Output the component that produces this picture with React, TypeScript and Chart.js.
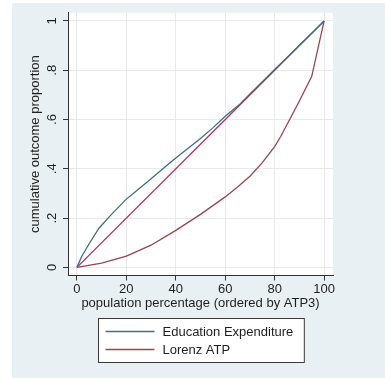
import React, { useEffect, useRef } from "react";
import { Chart, registerables } from "chart.js";

Chart.register(...registerables);

// ---- data ----
const eduX = [0, 2, 5, 9, 14, 20, 25, 30, 35, 40, 45, 50, 55, 60, 66, 70, 75, 80, 85, 90, 95, 100];
const eduY = [0, 0.045, 0.097, 0.16, 0.215, 0.277, 0.318, 0.36, 0.402, 0.444, 0.483, 0.523, 0.566, 0.613, 0.663, 0.704, 0.753, 0.803, 0.852, 0.901, 0.95, 1];

const lorenzX = [0, 10, 20, 30, 40, 50, 60, 65, 70, 75, 80, 82.5, 85, 90, 95, 100];
const lorenzY = [0, 0.017, 0.046, 0.09, 0.15, 0.215, 0.286, 0.326, 0.37, 0.425, 0.49, 0.532, 0.58, 0.675, 0.775, 1];

const equalityX = [0, 100];
const equalityY = [0, 1];

const xTickValues = [0, 20, 40, 60, 80, 100];
const xTickLabels = ["0", "20", "40", "60", "80", "100"];
const yTickValues = [0, 0.2, 0.4, 0.6, 0.8, 1];
const yTickLabels = ["0", ".2", ".4", ".6", ".8", "1"];

const seriesLabels = ["Education Expenditure", "Lorenz ATP"];
const xTitle = "population percentage (ordered by ATP3)";
const yTitle = "cumulative outcome proportion";

const COL_EDU = "#3f6f80";
const COL_LOR = "#9a4452";
const COL_EQ = "#b02a55";
const FONT = "'Liberation Sans', Arial, sans-serif";
const TEXT = "#1e1e1e";

const toPts = (xs: number[], ys: number[]) => xs.map((x, i) => ({ x, y: ys[i] }));

const bgPlugin = {
  id: "bgPanel",
  beforeDraw(chart: any) {
    const { ctx, chartArea } = chart;
    ctx.save();
    ctx.fillStyle = "#ffffff";
    ctx.fillRect(0, 0, chart.width, chart.height);
    ctx.fillStyle = "#e9f0f3";
    ctx.fillRect(12, 3, chart.width - 12, 375);
    ctx.fillStyle = "#ffffff";
    ctx.fillRect(chartArea.left, chartArea.top, chartArea.right - chartArea.left, chartArea.bottom - chartArea.top);
    ctx.restore();
  },
};

const boxLegendPlugin = {
  id: "boxLegend",
  afterDraw(chart: any) {
    const { ctx, chartArea } = chart;
    const xs = chart.scales.x;
    const items = chart.data.datasets.filter((d: any) => d.showInLegend);
    ctx.save();
    ctx.font = `13px ${FONT}`;
    let maxW = 0;
    items.forEach((d: any) => {
      maxW = Math.max(maxW, ctx.measureText(d.label).width);
    });
    const padL = 7, sample = 49, gap = 8, padR = 11, rowH = 18, padT = 13;
    const w = padL + sample + gap + maxW + padR;
    const h = padT * 2 + rowH * (items.length - 1);
    const cx = (chartArea.left + chartArea.right) / 2;
    const left = Math.round(cx - w / 2) + 0.5;
    const top = Math.round(xs.bottom + 7) + 0.5;
    ctx.fillStyle = "#ffffff";
    ctx.fillRect(left, top, w, h);
    ctx.strokeStyle = "#3a3a3a";
    ctx.lineWidth = 1;
    ctx.strokeRect(left, top, w, h);
    items.forEach((d: any, i: number) => {
      const y = top + padT + i * rowH;
      ctx.strokeStyle = d.borderColor;
      ctx.lineWidth = 1.3;
      ctx.beginPath();
      ctx.moveTo(left + padL, y);
      ctx.lineTo(left + padL + sample, y);
      ctx.stroke();
      ctx.fillStyle = TEXT;
      ctx.textBaseline = "middle";
      ctx.textAlign = "left";
      ctx.fillText(d.label, left + padL + sample + gap, y + 0.5);
    });
    ctx.restore();
  },
};

export default function App() {
  const ref = useRef<HTMLCanvasElement | null>(null);
  useEffect(() => {
    if (!ref.current) return;
    const chart = new Chart(ref.current, {
      type: "line",
      data: {
        datasets: [
          {
            label: seriesLabels[0],
            data: toPts(eduX, eduY),
            borderColor: COL_EDU,
            borderWidth: 1.3,
            pointRadius: 0,
            tension: 0,
            fill: false,
            showInLegend: true,
          } as any,
          {
            label: seriesLabels[1],
            data: toPts(lorenzX, lorenzY),
            borderColor: COL_LOR,
            borderWidth: 1.3,
            pointRadius: 0,
            tension: 0,
            fill: false,
            showInLegend: true,
          } as any,
          {
            label: "Equality",
            data: toPts(equalityX, equalityY),
            borderColor: COL_EQ,
            borderWidth: 1.3,
            pointRadius: 0,
            fill: false,
            showInLegend: false,
          } as any,
        ],
      },
      options: {
        responsive: false,
        animation: false,
        devicePixelRatio: 1,
        layout: { padding: { left: 28, top: 12, right: 52, bottom: 68 } },
        plugins: {
          legend: { display: false },
          tooltip: { enabled: false },
        },
        scales: {
          x: {
            type: "linear",
            min: -3.6,
            max: 103.6,
            afterBuildTicks: (s: any) => {
              s.ticks = xTickValues.map((v) => ({ value: v }));
            },
            afterFit: (s: any) => {
              s.height = 35.5;
            },
            ticks: {
              callback: (v: any) => xTickLabels[xTickValues.indexOf(Number(v))] ?? "",
              font: { family: FONT, size: 13 },
              color: TEXT,
              padding: 1,
              maxRotation: 0,
              minRotation: 0,
            },
            grid: { color: "#e9e9e9", lineWidth: 1, tickLength: 5, tickColor: "#333", tickWidth: 1 },
            border: { color: "#333", width: 1 },
            title: {
              display: true,
              text: xTitle,
              font: { family: FONT, size: 13 },
              color: TEXT,
              padding: 0,
            },
          },
          y: {
            type: "linear",
            min: -0.033,
            max: 1.033,
            afterBuildTicks: (s: any) => {
              s.ticks = yTickValues.map((v) => ({ value: v }));
            },
            afterFit: (s: any) => {
              s.width = 40;
            },
            ticks: {
              callback: (v: any) => {
                const i = yTickValues.findIndex((t) => Math.abs(t - Number(v)) < 1e-9);
                return i >= 0 ? yTickLabels[i] : "";
              },
              font: { family: FONT, size: 13 },
              color: TEXT,
              padding: 5,
              minRotation: 90,
              maxRotation: 90,
              crossAlign: "center",
            },
            grid: { color: "#e9e9e9", lineWidth: 1, tickLength: 5, tickColor: "#333", tickWidth: 1 },
            border: { color: "#333", width: 1 },
            title: {
              display: true,
              text: yTitle,
              font: { family: FONT, size: 13 },
              color: TEXT,
              padding: 0,
            },
          },
        },
      } as any,
      plugins: [bgPlugin, boxLegendPlugin],
    });
    return () => chart.destroy();
  }, []);
  return (
    <div style={{ position: "fixed", left: 0, top: 0, width: 385, height: 379 }}>
      <canvas ref={ref} width={385} height={379} style={{ display: "block", width: 385, height: 379 }} />
    </div>
  );
}
